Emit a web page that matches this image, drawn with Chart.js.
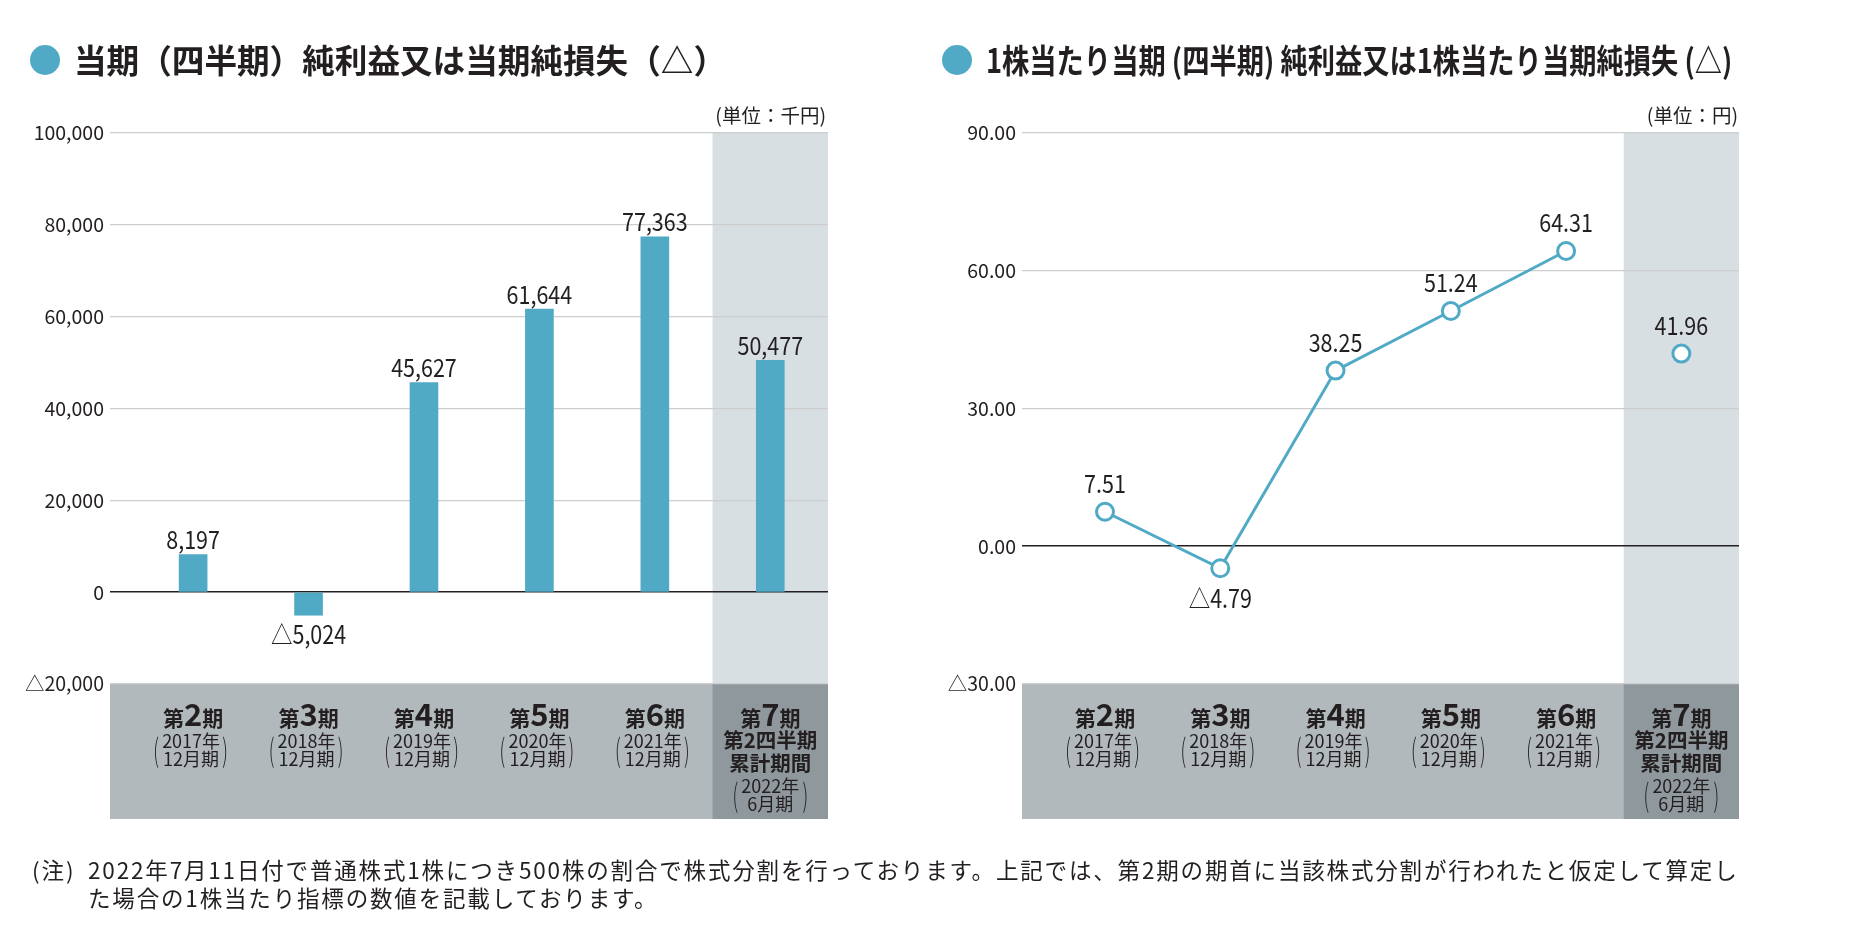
<!DOCTYPE html>
<html><head><meta charset="utf-8">
<script src="https://cdn.jsdelivr.net/npm/chart.js@4.4.1/dist/chart.umd.min.js"></script>
<style>
html,body{margin:0;padding:0;background:#fff;}
body{width:1850px;height:928px;position:relative;overflow:hidden;font-family:"Noto Sans CJK JP","Noto Sans",sans-serif;color:#231f20;}
canvas.c{position:absolute;top:0;}
.dot{position:absolute;width:30px;height:30px;border-radius:50%;background:#50aac6;}
.title{position:absolute;font-weight:700;font-size:33px;line-height:1;white-space:nowrap;transform-origin:0 50%;}
.unit{position:absolute;font-size:19.5px;line-height:1;white-space:nowrap;}
.note{position:absolute;font-size:22.5px;line-height:1;white-space:nowrap;}
</style></head><body>
<canvas id="c1" class="c" width="925" height="928" style="left:0"></canvas>
<canvas id="c2" class="c" width="925" height="928" style="left:925px"></canvas>
<div class="dot" style="left:30px;top:45px"></div>
<div class="title" id="t1" style="left:74px;top:43px">当期（四半期）純利益又は当期純損失（△）</div>
<div class="dot" style="left:942px;top:45px"></div>
<div class="title" id="t2" style="left:986px;top:43px">1株当たり当期 (四半期) 純利益又は1株当たり当期純損失 (△)</div>
<div class="unit" style="right:1024px;top:105px">(単位：千円)</div>
<div class="unit" style="right:112px;top:105px">(単位：円)</div>
<div class="note" id="n0" style="left:32px;top:858px;letter-spacing:2px">(注)</div>
<div class="note" id="n1" style="left:88px;top:858px">2022年7月11日付で普通株式1株につき500株の割合で株式分割を行っております。上記では、第2期の期首に当該株式分割が行われたと仮定して算定し</div>
<div class="note" id="n2" style="left:88px;top:886px">た場合の1株当たり指標の数値を記載しております。</div>
<script>
// ---- data ----
const periodNums = ['2','3','4','5','6','7'];
const periodYears = ['2017年','2018年','2019年','2020年','2021年','2022年'];
const periodMonths = ['12月期','12月期','12月期','12月期','12月期','6月期'];
const lastPeriodExtra = ['第2四半期','累計期間'];
const netIncome = [8197, -5024, 45627, 61644, 77363, 50477];
const eps = [7.51, -4.79, 38.25, 51.24, 64.31, 41.96];
const incomeTicks = [-20000, 0, 20000, 40000, 60000, 80000, 100000];
const epsTicks = [-30, 0, 30, 60, 90];

const FF = '"Noto Sans CJK JP","Noto Sans",sans-serif';
const BLUE = '#50aac6';
const TXT = '#231f20';
Chart.defaults.font.family = FF;
Chart.defaults.color = TXT;

function fmtInt(v){ return (v < 0 ? '△' : '') + Math.abs(v).toLocaleString('en-US'); }
function fmtDec(v){ return (v < 0 ? '△' : '') + Math.abs(v).toFixed(2); }

function condText(ctx, text, x, y, size, sx, weight){
  ctx.save();
  ctx.font = (weight||'400') + ' ' + size + 'px ' + FF;
  ctx.fillStyle = TXT; ctx.textAlign = 'center'; ctx.textBaseline = 'middle';
  ctx.translate(x, y); ctx.scale(sx, 1);
  ctx.fillText(text, 0, 0);
  ctx.restore();
}
function mixed(ctx, parts, cx, baseY){
  let w = 0;
  parts.forEach(p => { ctx.font = p.f; p.w = ctx.measureText(p.t).width; w += p.w; });
  let x = cx - w/2;
  ctx.textAlign = 'left'; ctx.textBaseline = 'alphabetic'; ctx.fillStyle = TXT;
  parts.forEach(p => { ctx.font = p.f; ctx.fillText(p.t, x, baseY); x += p.w; });
}
function paren(ctx, ch, x, y){
  ctx.save();
  ctx.font = '300 18px ' + FF; ctx.fillStyle = TXT;
  ctx.textAlign = 'center'; ctx.textBaseline = 'middle';
  ctx.translate(x, y); ctx.scale(1, 1.75);
  ctx.fillText(ch, 0, 0);
  ctx.restore();
}

const bandPlugin = {
  id: 'band',
  beforeDraw(chart){
    const {ctx, chartArea: a} = chart;
    const xs = chart.scales.x;
    const n = periodNums.length;
    const s0 = xs.getPixelForValue(n - 1.5);
    ctx.save();
    ctx.fillStyle = '#d7dfe2';
    ctx.fillRect(s0, a.top, a.right - s0, a.bottom - a.top);
    ctx.fillStyle = '#b2b9bc';
    ctx.fillRect(a.left, a.bottom, a.right - a.left, 135);
    ctx.fillStyle = '#8f989c';
    ctx.fillRect(s0, a.bottom, a.right - s0, 135);
    ctx.restore();
  },
  afterDraw(chart){
    const {ctx} = chart;
    const xs = chart.scales.x;
    ctx.save();
    periodNums.forEach((num, i) => {
      const cx = xs.getPixelForValue(i);
      mixed(ctx, [
        {t:'第', f:'700 21px ' + FF},
        {t:num, f:'700 31px ' + FF},
        {t:'期', f:'700 21px ' + FF}
      ], cx, 726);
      ctx.textAlign = 'center'; ctx.textBaseline = 'middle'; ctx.fillStyle = TXT;
      if (i < periodNums.length - 1){
        ctx.font = '400 18px ' + FF;
        ctx.fillText(periodYears[i], cx - 2, 741);
        ctx.fillText(periodMonths[i], cx - 2, 759);
        paren(ctx, '(', cx - 37, 750);
        paren(ctx, ')', cx + 32, 750);
      } else {
        ctx.font = '700 20.5px ' + FF;
        ctx.fillText(lastPeriodExtra[0], cx, 740);
        ctx.fillText(lastPeriodExtra[1], cx, 763);
        ctx.font = '400 18px ' + FF;
        ctx.fillText(periodYears[i], cx, 786);
        ctx.fillText(periodMonths[i], cx, 804);
        paren(ctx, '(', cx - 35, 795);
        paren(ctx, ')', cx + 35, 795);
      }
    });
    ctx.restore();
  }
};

const labelPlugin = {
  id: 'vlabels',
  afterDatasetsDraw(chart, args, opts){
    const {ctx} = chart;
    const meta = chart.getDatasetMeta(0);
    const vals = chart.data.datasets[0].data;
    meta.data.forEach((el, i) => {
      const v = vals[i].y;
      const txt = opts.fmt(v);
      const y = v >= 0 ? el.y - opts.up : el.y + opts.down;
      condText(ctx, txt, el.x, y, 25, 0.86);
    });
  }
};

function yGrid(){
  return {
    drawTicks: false,
    color: c => (c.tick && c.tick.value === 0) ? TXT : '#cdcdcd',
    lineWidth: c => (c.tick && c.tick.value === 0) ? 1.6 : 1.2
  };
}

new Chart(document.getElementById('c1'), {
  type: 'bar',
  data: { datasets: [{
    data: netIncome.map((v, i) => ({x: i, y: v})),
    backgroundColor: BLUE, barThickness: 28
  }]},
  options: {
    responsive: false, animation: false,
    layout: { padding: {left: 0, right: 97, top: 133, bottom: 244} },
    plugins: { legend: {display: false}, tooltip: {enabled: false},
      vlabels: { fmt: fmtInt, up: 15, down: 19 } },
    scales: {
      x: { type: 'linear', min: -0.72, max: 5.5, offset: false, grid: {offset: false}, display: false },
      y: { min: -20000, max: 100000,
        afterFit: s => { s.width = 110; },
        afterBuildTicks: s => { s.ticks = incomeTicks.map(v => ({value: v})); },
        border: {display: false}, grid: yGrid(),
        ticks: { padding: 6, font: {size: 19.5}, color: TXT, callback: v => fmtInt(v) } }
    }
  },
  plugins: [bandPlugin, labelPlugin]
});

new Chart(document.getElementById('c2'), {
  type: 'line',
  data: { datasets: [{
    data: eps.map((v, i) => ({x: i, y: v})),
    borderColor: BLUE, borderWidth: 3,
    pointBackgroundColor: '#fff', pointBorderColor: BLUE,
    pointBorderWidth: 3, pointRadius: 8.5, clip: false,
    segment: { borderColor: c => c.p1DataIndex === eps.length - 1 ? 'rgba(0,0,0,0)' : BLUE }
  }]},
  options: {
    responsive: false, animation: false,
    layout: { padding: {left: 0, right: 111, top: 133, bottom: 244} },
    plugins: { legend: {display: false}, tooltip: {enabled: false},
      vlabels: { fmt: fmtDec, up: 28, down: 30 } },
    scales: {
      x: { type: 'linear', min: -0.72, max: 5.5, offset: false, display: false },
      y: { min: -30, max: 90,
        afterFit: s => { s.width = 97; },
        afterBuildTicks: s => { s.ticks = epsTicks.map(v => ({value: v})); },
        border: {display: false}, grid: yGrid(),
        ticks: { padding: 6, font: {size: 19.5}, color: TXT, callback: v => fmtDec(v) } }
    }
  },
  plugins: [bandPlugin, labelPlugin]
});

// fit text widths to reference
function fitScale(id, target){
  const el = document.getElementById(id);
  const w = el.offsetWidth;
  el.style.transform = 'scaleX(' + (target / w) + ')';
}
fitScale('t1', 652);
fitScale('t2', 746);
(function(){
  const n1 = document.getElementById('n1'), n2 = document.getElementById('n2');
  const chars = Array.from(n1.textContent).length;
  const w = n1.offsetWidth;
  const s = (1651 - w) / chars;
  n1.style.letterSpacing = s + 'px';
  n2.style.letterSpacing = s + 'px';
})();
</script>
</body></html>
